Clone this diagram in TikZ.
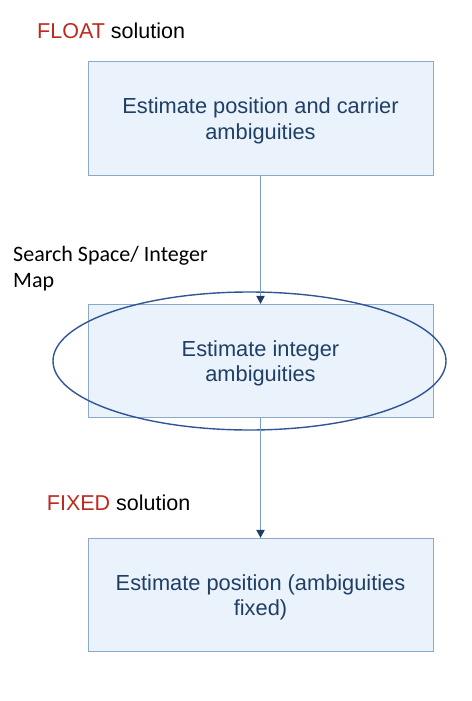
\documentclass[tikz,border=0pt]{standalone}
\usepackage{fontspec}
\setmainfont{Liberation Sans}
\newfontfamily\calib{Carlito}
\usetikzlibrary{shapes.geometric,arrows.meta}
\definecolor{boxfill}{HTML}{EAF2FB}
\definecolor{boxline}{HTML}{8EA9C8}
\definecolor{boxtext}{HTML}{1F3F66}
\definecolor{ellline}{HTML}{2F5597}
\definecolor{arrline}{HTML}{7D9CC0}
\definecolor{arrtip}{HTML}{1F3F66}
\definecolor{redlabel}{HTML}{C0281C}
\tikzset{
  stepbox/.style={draw=boxline, fill=boxfill, line width=0.9pt, minimum width=345pt, minimum height=113.5pt, inner sep=0pt, text depth=0pt, align=center, text=boxtext, font=\fontsize{21.8}{25.5}\selectfont},
  labeltext/.style={inner sep=0pt, anchor=base west, font=\fontsize{21.5}{25.5}\selectfont},
  flowarrow/.style={draw=arrline, line width=0.8pt, -{Triangle[length=8pt,width=8.5pt,fill=arrtip,color=arrtip]}},
  searchell/.style={ellipse, draw=ellline, line width=1.4pt, minimum width=393pt, minimum height=138pt, inner sep=0pt}
}
\begin{document}
\begin{tikzpicture}[x=1pt,y=-1pt]
\useasboundingbox (0,0) rectangle (471,701);
\node[stepbox] (b1) at (260.5,118.5) {Estimate position and carrier\\ambiguities};
\node[stepbox] (b2) at (260.5,361) {Estimate integer\\ambiguities};
\node[stepbox] (b3) at (260.5,595) {Estimate position (ambiguities\\fixed)};
\node[searchell] (ell) at (249.5,361) {};
\draw[flowarrow] (b1.south) -- (b2.north);
\draw[flowarrow] (b2.south) -- (b3.north);
\node[labeltext] (float) at (37,39) {\textcolor{redlabel}{FLOAT} solution};
\node[labeltext] (fixed) at (46.7,510.7) {\textcolor{redlabel}{FIXED} solution};
\node[inner sep=0pt, anchor=north west, align=left, font=\calib\fontsize{22}{26}\selectfont] (search) at (13,246) {Search Space/ Integer\\Map};
\end{tikzpicture}
\end{document}
